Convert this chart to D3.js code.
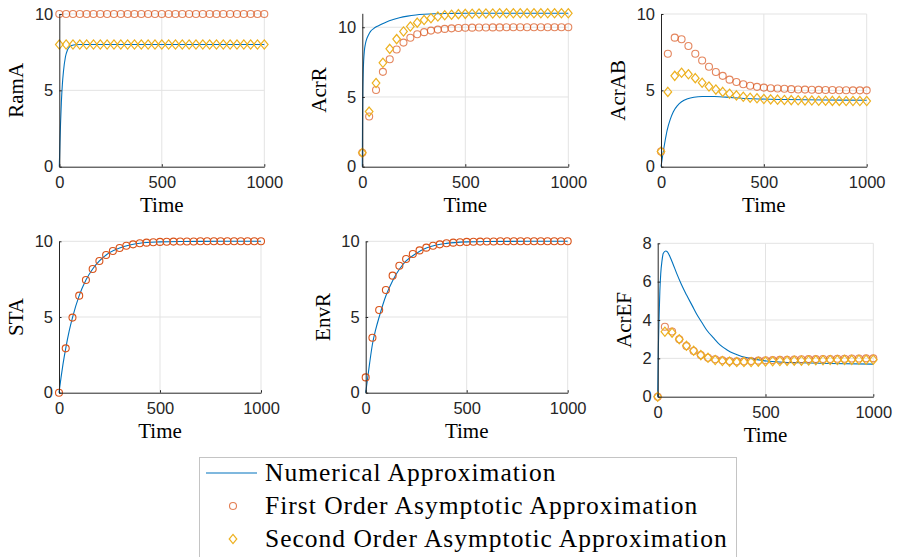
<!DOCTYPE html>
<html>
<head>
<meta charset="utf-8">
<script src="https://cdn.jsdelivr.net/npm/d3@7"></script>
<style>
  body { margin: 0; background: #fff; }
  svg { display: block; }
  .tick text { font-family: "Liberation Sans", Arial, sans-serif; font-size: 16.5px; fill: #262626; }
  .lbl { font-family: "Liberation Serif", "DejaVu Serif", serif; font-size: 21px; fill: #000; }
  .leg { font-family: "Liberation Serif", "DejaVu Serif", serif; font-size: 25.5px; letter-spacing: 1px; fill: #000; }
</style>
</head>
<body>
<svg id="chart" width="897" height="557"></svg>
<script>
// sample times of the asymptotic markers
const markerT = [0,33.3,66.7,100,133.3,166.7,200,233.3,266.7,300,333.3,366.7,400,433.3,466.7,500,
  533.3,566.7,600,633.3,666.7,700,733.3,766.7,800,833.3,866.7,900,933.3,966.7,1000];

// RamA
const ramaNumT = [0,3,6,10,15,20,30,40,50,60,80,100,200,500,1000];
const ramaNum  = [0,1.5,2.8,4.2,5.4,6.2,7.2,7.65,7.85,7.93,7.99,8,8,8,8];
const ramaFirst  = [10,10,10,10,10,10,10,10,10,10,10,10,10,10,10,10,10,10,10,10,10,10,10,10,10,10,10,10,10,10,10];
const ramaSecond = [8,8,8,8,8,8,8,8,8,8,8,8,8,8,8,8,8,8,8,8,8,8,8,8,8,8,8,8,8,8,8];

// AcrR
const acrrNumT = [0,1,2,4,7,10,15,20,30,40,55,70,90,120,150,180,220,260,300,350,420,500,600,800,1000];
const acrrNum  = [0,3.0,5.0,6.6,7.7,8.3,8.8,9.1,9.45,9.7,9.9,10.05,10.2,10.4,10.55,10.68,10.8,10.88,10.93,10.97,10.99,11,11,11,11];
const acrrFirst  = [1.0,3.6,5.5,6.8,7.7,8.4,8.9,9.25,9.5,9.65,9.76,9.83,9.88,9.92,9.95,9.96,9.97,9.98,9.985,9.99,9.99,9.995,10,10,10,10,10,10,10,10,10];
const acrrSecond = [1.0,3.95,6.0,7.45,8.45,9.15,9.7,10.05,10.33,10.52,10.65,10.77,10.86,10.9,10.94,10.96,10.97,10.98,10.99,10.99,11,11,11,11,11,11,11,11,11,11,11];

// AcrAB
const acrabNumT = [0,10,20,30,45,60,80,100,130,160,200,260,350,450,600,800,1000];
const acrabNum  = [0,0.9,1.7,2.4,3.1,3.6,4.0,4.25,4.45,4.55,4.6,4.6,4.52,4.45,4.4,4.37,4.35];
const acrabFirst  = [1.0,7.4,8.45,8.35,7.9,7.4,6.95,6.55,6.2,5.95,5.7,5.55,5.4,5.3,5.23,5.18,5.14,5.12,5.1,5.08,5.06,5.05,5.04,5.03,5.02,5.02,5.01,5.01,5,5,5];
const acrabSecond = [1.0,4.9,5.95,6.15,6.05,5.8,5.5,5.25,5.05,4.9,4.78,4.67,4.58,4.52,4.48,4.43,4.41,4.39,4.37,4.36,4.35,4.34,4.33,4.32,4.32,4.31,4.31,4.3,4.3,4.3,4.3];

// STA
const staNumT = [0,10,20,33.3,50,66.7,100,133.3,166.7,200,250,300,350,400,500,600,800,1000];
const staNum  = [0,1.0,1.9,2.93,4.05,4.96,6.41,7.44,8.17,8.7,9.25,9.56,9.75,9.87,9.96,9.99,10,10];
const staFirst = [0,2.93,4.96,6.41,7.44,8.17,8.7,9.1,9.36,9.56,9.71,9.8,9.87,9.91,9.94,9.96,9.97,9.98,9.99,9.99,9.99,10,10,10,10,10,10,10,10,10,10];

// EnvR
const envrNumT = [0,10,20,33.3,50,66.7,100,133.3,166.7,200,250,300,350,400,500,600,800,1000];
const envrNum  = [0,1.0,2.0,3.2,4.2,5.0,6.4,7.4,8.15,8.7,9.2,9.55,9.75,9.86,9.96,9.99,10,10];
const envrFirst = [1.01,3.63,5.46,6.78,7.73,8.39,8.83,9.16,9.4,9.58,9.71,9.8,9.87,9.91,9.94,9.96,9.97,9.98,9.99,9.99,10,10,10,10,10,10,10,10,10,10,10];

// AcrEF
const acrefNumT = [0,3,6,10,14,20,26,37,45,57,70,88,110,134,160,181,205,227,260,289,320,351,390,428,470,505,580,660,800,1000];
const acrefNum  = [0,2.5,4.0,5.5,6.4,7.1,7.48,7.6,7.55,7.3,6.95,6.43,5.85,5.3,4.75,4.3,3.87,3.48,3.05,2.7,2.45,2.26,2.1,2.0,1.92,1.86,1.8,1.77,1.73,1.7];
const acrefFirst  = [0,3.65,3.4,3.0,2.64,2.38,2.17,2.03,1.95,1.9,1.86,1.84,1.84,1.86,1.88,1.9,1.91,1.92,1.93,1.94,1.95,1.96,1.96,1.97,1.97,1.98,1.98,1.99,1.99,2,2];
const acrefSecond = [0,3.39,3.34,3.0,2.66,2.4,2.17,2.03,1.91,1.86,1.83,1.81,1.81,1.81,1.83,1.84,1.85,1.86,1.87,1.88,1.88,1.89,1.9,1.9,1.91,1.91,1.92,1.92,1.93,1.93,1.93];

const xTicks = [0, 500, 1000];
const legendLabels = ["Numerical Approximation", "First Order Asymptotic Approximation", "Second Order Asymptotic Approximation"];

const blue = "#0072BD", orange = "#D95319", yellow = "#EDB120";

const svg = d3.select("#chart");

// panel boxes (pixels) + limits
const panels = [
  {name: "RamA",  x0: 59.3,  x1: 264.3, y0: 14,    y1: 166.7, ymax: 10, yticks: [0,5,10],     numT: ramaNumT,  num: ramaNum,  first: ramaFirst,  second: ramaSecond,  mop: 0.7},
  {name: "AcrR",  x0: 362.3, x1: 568.3, y0: 13.3,  y1: 166.7, ymax: 11, yticks: [0,5,10],     numT: acrrNumT,  num: acrrNum,  first: acrrFirst,  second: acrrSecond,  mop: 0.7},
  {name: "AcrAB", x0: 661,   x1: 866.7, y0: 14,    y1: 166.7, ymax: 10, yticks: [0,5,10],     numT: acrabNumT, num: acrabNum, first: acrabFirst, second: acrabSecond, mop: 0.7},
  {name: "STA",   x0: 59,    x1: 261,   y0: 241.3, y1: 392.7, ymax: 10, yticks: [0,5,10],     numT: staNumT,   num: staNum,   first: staFirst,   second: null,        mop: 1},
  {name: "EnvR",  x0: 365.7, x1: 567.7, y0: 241.3, y1: 392.7, ymax: 10, yticks: [0,5,10],     numT: envrNumT,  num: envrNum,  first: envrFirst,  second: null,        mop: 1},
  {name: "AcrEF", x0: 657.7, x1: 873.3, y0: 243.3, y1: 396.7, ymax: 8,  yticks: [0,2,4,6,8], numT: acrefNumT, num: acrefNum, first: acrefFirst, second: acrefSecond, mop: 0.7}
];

function diamond(g, cx, cy, color) {
  g.append("path")
    .attr("d", `M${cx},${cy-4.6}L${cx+3.8},${cy}L${cx},${cy+4.6}L${cx-3.8},${cy}Z`)
    .attr("fill", "none").attr("stroke", color).attr("stroke-width", 1.2);
}

panels.forEach(p => {
  const x = d3.scaleLinear().domain([0, 1000]).range([p.x0, p.x1]);
  const y = d3.scaleLinear().domain([0, p.ymax]).range([p.y1, p.y0]);
  const g = svg.append("g");

  // grid
  g.selectAll(".gx").data(xTicks.slice(1)).join("line")
    .attr("x1", d => x(d)).attr("x2", d => x(d)).attr("y1", p.y0).attr("y2", p.y1)
    .attr("stroke", "#e3e3e3").attr("stroke-width", 1);
  g.selectAll(".gy").data(p.yticks.slice(1)).join("line")
    .attr("x1", p.x0).attr("x2", p.x1).attr("y1", d => y(d)).attr("y2", d => y(d))
    .attr("stroke", "#e3e3e3").attr("stroke-width", 1);

  // numerical solution
  const pts = p.numT.map((t, i) => [t, p.num[i]]);
  g.append("path").datum(pts)
    .attr("d", d3.line().x(d => x(d[0])).y(d => y(d[1])).curve(d3.curveMonotoneX))
    .attr("fill", "none").attr("stroke", blue).attr("stroke-width", 1.1);

  // first order markers
  g.selectAll(".c").data(p.first).join("circle")
    .attr("cx", (d, i) => x(markerT[i])).attr("cy", d => y(d)).attr("r", 3.5)
    .attr("fill", "none").attr("stroke", orange).attr("stroke-width", 1.1).attr("opacity", p.mop);

  // second order markers
  if (p.second) p.second.forEach((d, i) => diamond(g, x(markerT[i]), y(d), yellow));

  // axes
  const ax = g.append("g").attr("transform", `translate(0,${p.y1})`)
    .call(d3.axisBottom(x).tickValues(xTicks).tickFormat(d3.format("d"))
      .tickSizeInner(-2.5).tickSizeOuter(0).tickPadding(10));
  const ay = g.append("g").attr("transform", `translate(${p.x0},0)`)
    .call(d3.axisLeft(y).tickValues(p.yticks).tickFormat(d3.format("d"))
      .tickSizeInner(-2.5).tickSizeOuter(0).tickPadding(6));
  [ax, ay].forEach(a => {
    a.select(".domain").attr("stroke", "#262626").attr("stroke-width", 1);
    a.selectAll(".tick line").attr("stroke", "#262626");
    a.selectAll(".tick text").attr("font-family", null).attr("font-size", null);
  });

  // labels
  g.append("text").attr("class", "lbl").attr("text-anchor", "middle")
    .attr("x", (p.x0 + p.x1) / 2).attr("y", p.y1 + 45).text("Time");
  const off = p.ymax >= 10 ? 36 : 27;
  g.append("text").attr("class", "lbl").attr("text-anchor", "middle")
    .attr("transform", `translate(${p.x0 - off},${(p.y0 + p.y1) / 2}) rotate(-90)`)
    .text(p.name);
});

// legend
const leg = svg.append("g");
leg.append("rect").attr("x", 199.5).attr("y", 457.5).attr("width", 537).attr("height", 120)
  .attr("fill", "#fff").attr("stroke", "#c4c4c4").attr("stroke-width", 1);
const rowY = [473, 506, 539];
leg.append("line").attr("x1", 206).attr("x2", 257).attr("y1", rowY[0]).attr("y2", rowY[0])
  .attr("stroke", blue).attr("stroke-width", 1.1);
leg.append("circle").attr("cx", 233).attr("cy", rowY[1]).attr("r", 3.5)
  .attr("fill", "none").attr("stroke", orange).attr("stroke-width", 1.1).attr("opacity", 0.75);
diamond(leg, 233, rowY[2], yellow);
leg.selectAll(".lt").data(legendLabels).join("text").attr("class", "leg")
  .attr("x", 265).attr("y", (d, i) => rowY[i]).attr("dy", "0.33em").text(d => d);
</script>
</body>
</html>
